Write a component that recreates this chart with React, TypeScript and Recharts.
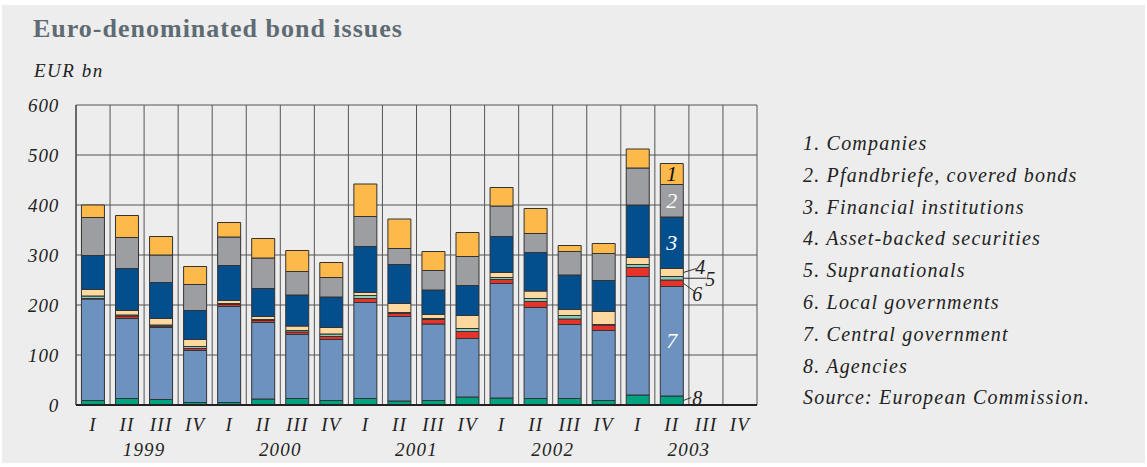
import React from "react";
import {
  BarChart,
  Bar,
  XAxis,
  YAxis,
  CartesianGrid,
  LabelList,
} from "recharts";

// Quarterly euro-denominated bond issues, EUR bn
const years = ["1999", "2000", "2001", "2002", "2003"];
const quarters = ["I", "II", "III", "IV"];

const companies = [25, 44, 37, 36, 29, 39, 42, 30, 65, 59, 38, 48, 37, 50, 12, 20, 38, 42, null, null];
const pfandbriefe = [76, 62, 55, 52, 57, 61, 47, 39, 60, 32, 39, 58, 61, 38, 47, 54, 74, 65, null, null];
const financialInst = [68, 84, 72, 58, 70, 56, 62, 61, 92, 78, 49, 60, 72, 77, 69, 62, 105, 103, null, null];
const assetBacked = [13, 9, 13, 14, 6, 6, 9, 13, 6, 18, 8, 26, 10, 15, 12, 26, 14, 16, null, null];
const supranationals = [5, 2, 2, 4, 2, 2, 3, 5, 6, 2, 2, 6, 4, 6, 7, 1, 6, 7, null, null];
const localGov = [1, 5, 3, 4, 4, 4, 5, 6, 8, 6, 9, 14, 8, 12, 11, 11, 18, 13, null, null];
const centralGov = [203, 160, 144, 104, 192, 153, 128, 122, 192, 169, 153, 117, 229, 182, 148, 140, 237, 219, null, null];
const agencies = [9, 13, 11, 5, 5, 12, 13, 9, 13, 8, 9, 16, 14, 13, 13, 9, 20, 18, null, null];

const yTicks = [0, 100, 200, 300, 400, 500, 600];

const legendItems = [
  "1. Companies",
  "2. Pfandbriefe, covered bonds",
  "3. Financial institutions",
  "4. Asset-backed securities",
  "5. Supranationals",
  "6. Local governments",
  "7. Central government",
  "8. Agencies",
];

const periods = years.flatMap((y) => quarters.map((q) => `${y} ${q}`));

const data = periods.map((period, i) => ({
  period,
  companies: companies[i],
  pfandbriefe: pfandbriefe[i],
  financialInst: financialInst[i],
  assetBacked: assetBacked[i],
  supranationals: supranationals[i],
  localGov: localGov[i],
  centralGov: centralGov[i],
  agencies: agencies[i],
}));

// bottom-to-top stacking order, with the number shown on the labelled bar
const series = [
  { key: "agencies", color: "#00A380", num: "8", mode: "callout", tx: 9, ty: 4, lx: 8, ly: -3 },
  { key: "centralGov", color: "#6D92BF", num: "7", mode: "inside", fill: "#fff" },
  { key: "localGov", color: "#E5332A", num: "6", mode: "callout", tx: 9, ty: 18, lx: 11, ly: 8 },
  { key: "supranationals", color: "#86CDB8", num: "5", mode: "callout", tx: 22, ty: 8, lx: 23, ly: 0 },
  { key: "assetBacked", color: "#FDD9A0", num: "4", mode: "callout", tx: 12, ty: 1, lx: 13, ly: -4 },
  { key: "financialInst", color: "#034E8C", num: "3", mode: "inside", fill: "#fff" },
  { key: "pfandbriefe", color: "#9C9EA1", num: "2", mode: "inside", fill: "#fff" },
  { key: "companies", color: "#FDB94A", num: "1", mode: "inside", fill: "#111" },
];

const LABELLED_INDEX = 17;

const W = 1147;
const H = 467;
const margin = { top: 105, right: 390, bottom: 7, left: 26 };
const Y_AXIS_W = 50;
const X_AXIS_H = 55;
const plotWidth = W - margin.left - Y_AXIS_W - margin.right;
const band = plotWidth / periods.length;

const serif = "'Liberation Serif', 'DejaVu Serif', serif";

function QuarterTick(props: any) {
  const { x, y, payload } = props;
  const [year, q] = String(payload.value).split(" ");
  return (
    <g>
      <text
        x={x}
        y={y + 18}
        textAnchor="middle"
        fontFamily={serif}
        fontStyle="italic"
        fontSize={19}
        letterSpacing={1.2}
        fill="#222"
      >
        {q}
      </text>
      {q === "II" && (
        <text
          x={x + band / 2}
          y={y + 43}
          textAnchor="middle"
          fontFamily={serif}
          fontStyle="italic"
          fontSize={19}
          letterSpacing={1.2}
          fill="#222"
        >
          {year}
        </text>
      )}
    </g>
  );
}

function makeLabel(s: any) {
  return (props: any) => {
    const { x, y, width, height, index } = props;
    if (index !== LABELLED_INDEX) return null;
    const right = x + width;
    const midY = y + height / 2;
    if (s.mode === "inside") {
      return (
        <text
          x={x + width / 2}
          y={midY + 7}
          textAnchor="middle"
          fontFamily={serif}
          fontStyle="italic"
          fontSize={22}
          fill={s.fill}
        >
          {s.num}
        </text>
      );
    }
    return (
      <g>
        <line x1={right} y1={midY} x2={right + s.lx} y2={midY + s.ly} stroke="#333" strokeWidth={1} />
        <text
          x={right + s.tx}
          y={midY + s.ty}
          fontFamily={serif}
          fontStyle="italic"
          fontSize={20}
          fill="#222"
        >
          {s.num}
        </text>
      </g>
    );
  };
}

export default function App() {
  return (
    <div style={{ position: "absolute", left: 0, top: 0, width: W, height: H, background: "#fff" }}>
      <div
        style={{
          position: "absolute",
          left: 2,
          top: 5,
          width: W - 4,
          height: H - 9,
          background: "#EDEDED",
        }}
      />
      <div
        style={{
          position: "absolute",
          left: 33,
          top: 14,
          fontFamily: serif,
          fontWeight: "bold",
          fontSize: 26,
          letterSpacing: 1,
          color: "#5F6B73",
          whiteSpace: "nowrap",
        }}
      >
        Euro-denominated bond issues
      </div>
      <div
        style={{
          position: "absolute",
          left: 34,
          top: 60,
          fontFamily: serif,
          fontStyle: "italic",
          fontSize: 19,
          letterSpacing: 1.5,
          color: "#222",
        }}
      >
        EUR bn
      </div>

      <div style={{ position: "absolute", left: 0, top: 0 }}>
        <BarChart
          width={W}
          height={H}
          data={data}
          margin={margin}
          barCategoryGap="16%"
        >
          <CartesianGrid
            stroke="#555"
            strokeWidth={1}
            verticalCoordinatesGenerator={({ offset }: any) =>
              Array.from(
                { length: periods.length + 1 },
                (_, i) => offset.left + (i * offset.width) / periods.length
              )
            }
          />
          <XAxis
            dataKey="period"
            interval={0}
            tickLine={false}
            axisLine={{ stroke: "#222", strokeWidth: 2 }}
            height={X_AXIS_H}
            tick={<QuarterTick />}
          />
          <YAxis
            width={Y_AXIS_W}
            domain={[0, 600]}
            ticks={yTicks}
            tickLine={false}
            axisLine={{ stroke: "#333" }}
            tickMargin={11}
            tick={{
              fontFamily: serif,
              fontStyle: "italic",
              fontSize: 19,
              letterSpacing: 0.8,
              fill: "#222",
            }}
          />
          {series.map((s) => (
            <Bar
              key={s.key}
              dataKey={s.key}
              stackId="issues"
              fill={s.color}
              stroke="#333"
              strokeWidth={1}
              isAnimationActive={false}
            >
              <LabelList dataKey={s.key} content={makeLabel(s)} />
            </Bar>
          ))}
        </BarChart>
      </div>

      <div
        style={{
          position: "absolute",
          left: 803,
          top: 128,
          fontFamily: serif,
          fontStyle: "italic",
          fontSize: 20,
          letterSpacing: 1.2,
          color: "#222",
          lineHeight: "31.8px",
          whiteSpace: "nowrap",
        }}
      >
        {legendItems.map((item) => (
          <div key={item}>{item}</div>
        ))}
        <div>Source: European Commission.</div>
      </div>
    </div>
  );
}
